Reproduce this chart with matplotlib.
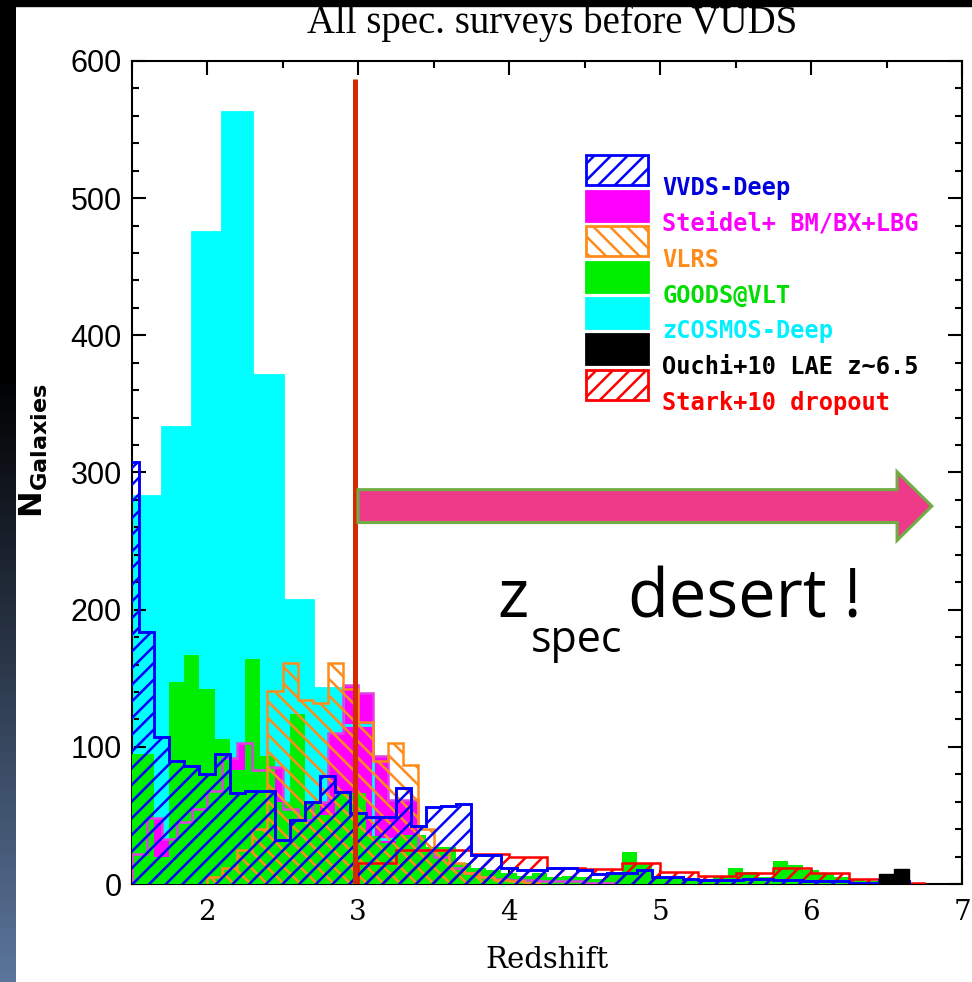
import numpy as np
import matplotlib.pyplot as plt
from matplotlib.patches import Rectangle, FancyArrow
from matplotlib.colors import LinearSegmentedColormap
from matplotlib.ticker import MultipleLocator

plt.rcParams['hatch.linewidth'] = 1.8
plt.rcParams['mathtext.fontset'] = 'dejavusans'

##########
# histogram data (counts per bin)

# VVDS-Deep, bins of 0.1 starting at z=1.45
vvds_z0 = 1.45
vvds = [308, 184, 107, 90, 86, 80, 95, 66, 68, 68, 32, 47, 60, 79, 67, 52, 49, 49, 70, 42,
        56, 57, 58, 21, 21, 12, 10, 10, 12, 12, 10, 7, 8, 8, 10, 5, 5, 4, 3, 3,
        3, 4, 4, 3, 3, 2, 2, 2, 1, 1, 3, 2]

# Steidel+ BM/BX+LBG, bins of 0.1 starting at z=1.5
steidel_z0 = 1.5
steidel = [22, 48, 33, 45, 55, 68, 92, 103, 83, 85, 55, 47, 60, 110, 145, 139, 93, 61, 61, 25,
           20, 12, 8, 5, 4, 3, 3, 2, 2, 2, 1, 1]

# VLRS, bins of 0.1 starting at z=2.0
vlrs_z0 = 2.0
vlrs = [5, 12, 25, 40, 141, 161, 134, 132, 161, 142, 118, 90, 103, 87, 40, 25, 15, 8, 5, 3, 2, 1]

# GOODS@VLT, bins of 0.1 starting at z=1.45
goods_z0 = 1.45
goods = [95, 95, 20, 147, 167, 142, 106, 83, 164, 93, 60, 124, 60, 50, 66, 66, 35, 30, 36, 36,
         27, 27, 15, 12, 10, 8, 6, 8, 5, 6, 5, 4, 8, 23, 15, 5, 4, 3, 4, 6,
         12, 9, 5, 17, 14, 10, 8, 5, 3, 2, 1]

# zCOSMOS-Deep, bins of 0.2 starting at z=1.5
zcosmos_z0 = 1.5
zcosmos = [283, 333, 475, 563, 371, 207, 143, 116, 33, 19, 7, 3, 2, 1, 1, 1]

# Ouchi+10 LAE, bins of 0.1 starting at z=6.45
ouchi_z0 = 6.45
ouchi = [7, 11]

# Stark+10 dropouts, bins of 0.25 starting at z=3.0
stark_z0 = 3.0
stark = [15, 25, 25, 22, 20, 12, 11, 15, 9, 6, 8, 12, 8, 4, 1]

desert_z = 2.98
desert_top = 587

labels = ['VVDS-Deep', 'Steidel+ BM/BX+LBG', 'VLRS', 'GOODS@VLT',
          'zCOSMOS-Deep', 'Ouchi+10 LAE z~6.5', 'Stark+10 dropout']


def edges(z0, dz, vals):
    return z0 + dz * np.arange(len(vals) + 1)


##########
# figure + slide background

fig = plt.figure(figsize=(9.72, 9.82), dpi=100)
fig.patch.set_facecolor('white')

bg = fig.add_axes([0, 0, 15 / 972, 1])
cmap = LinearSegmentedColormap.from_list('slide', [(0, 'black'), (0.38, 'black'), (1, '#5b759b')])
bg.imshow(np.linspace(0, 1, 256).reshape(-1, 1), cmap=cmap, aspect='auto')
bg.axis('off')
fig.patches.append(Rectangle((0, 1 - 6 / 982), 1, 6 / 982, transform=fig.transFigure,
                             color='black', zorder=10))

ax = fig.add_axes([131.5 / 972, 98 / 982, 830.5 / 972, 823 / 982])

##########
# histograms

ax.stairs(zcosmos, edges(zcosmos_z0, 0.2, zcosmos), fill=True, facecolor='#00ffff', linewidth=0, zorder=1)
ax.stairs(steidel, edges(steidel_z0, 0.1, steidel), fill=True, facecolor='#ff00ff', linewidth=0, zorder=2)
ax.stairs(zcosmos, edges(zcosmos_z0, 0.2, zcosmos), edgecolor='#00ffff', linewidth=2, zorder=2.5)
ax.stairs(goods, edges(goods_z0, 0.1, goods), fill=True, facecolor='#00ee00', linewidth=0, zorder=3)
ax.stairs(steidel, edges(steidel_z0, 0.1, steidel), edgecolor='#e040e0', linewidth=1.8, zorder=3.5)
ax.stairs(vlrs, edges(vlrs_z0, 0.1, vlrs), fill=True, facecolor='none', edgecolor='#ff8c1a',
          hatch='\\\\', linewidth=1.8, zorder=5)
ax.stairs(stark, edges(stark_z0, 0.25, stark), fill=True, facecolor='none', edgecolor='#ff0000',
          hatch='//', linewidth=1.8, zorder=5.5)
ax.stairs(vvds, edges(vvds_z0, 0.1, vvds), fill=True, facecolor='none', edgecolor='#0000ff',
          hatch='//', linewidth=2.1, zorder=6)
ax.stairs(ouchi, edges(ouchi_z0, 0.1, ouchi), fill=True, facecolor='black', edgecolor='black',
          linewidth=1, zorder=7)

ax.vlines(desert_z, 0, desert_top, colors='#d42a00', linewidth=3.6, zorder=8)

##########
# arrow + text

arrow = FancyArrow(3.0, 275.5, 3.8, 0, width=24, head_width=50, head_length=0.23,
                   length_includes_head=True, facecolor='#ef3a8a', edgecolor='#70ad47',
                   linewidth=2.2, zorder=9, clip_on=False)
ax.add_patch(arrow)

ax.text(0.440, 0.324, 'z', transform=ax.transAxes, fontsize=48, family='Open Sans', va='baseline')
ax.text(0.481, 0.282, 'spec', transform=ax.transAxes, fontsize=31, family='Open Sans', va='baseline')
ax.text(0.598, 0.324, 'desert !', transform=ax.transAxes, fontsize=48, family='Open Sans', va='baseline')

##########
# legend

styles = [('none', '#0000ff', '//', '#0000dd'),
          ('#ff00ff', '#ff00ff', None, '#ff00ff'),
          ('none', '#ff8c1a', '\\\\', '#ff8c1a'),
          ('#00ee00', '#00ee00', None, '#00dd00'),
          ('#00ffff', '#00ffff', None, '#00f0ff'),
          ('black', 'black', None, 'black'),
          ('none', '#ff0000', '//', '#ff0000')]

for i, (lab, (fc, ec, hatch, tc)) in enumerate(zip(labels, styles)):
    top = 0.886 - i * 0.0435
    ax.add_patch(Rectangle((0.547, top - 0.0365), 0.0747, 0.0365, transform=ax.transAxes,
                           facecolor=fc, edgecolor=ec, hatch=hatch, linewidth=2,
                           zorder=10, clip_on=False))
    ax.text(0.639, top - 0.0365 - 0.004, lab, transform=ax.transAxes, color=tc,
            family='DejaVu Sans Mono', weight='bold', fontsize=17, va='center', zorder=10)

##########
# axes

ax.set_xlim(1.5, 7.0)
ax.set_ylim(0, 600)
ax.xaxis.set_major_locator(MultipleLocator(1))
ax.xaxis.set_minor_locator(MultipleLocator(0.5))
ax.yaxis.set_major_locator(MultipleLocator(100))
ax.yaxis.set_minor_locator(MultipleLocator(20))
ax.tick_params(which='both', direction='in', top=True, right=True, width=1.5, color='black')
ax.tick_params(which='major', length=10)
ax.tick_params(which='minor', length=5)
ax.tick_params(axis='x', pad=11)
ax.tick_params(axis='y', pad=7)
for t in ax.get_xticklabels():
    t.set_fontfamily('DejaVu Serif')
    t.set_fontsize(20)
for t in ax.get_yticklabels():
    t.set_fontfamily('Liberation Sans')
    t.set_fontsize(22)
for s in ax.spines.values():
    s.set_linewidth(1.5)

ax.set_xlabel('Redshift', family='DejaVu Serif', fontsize=21, labelpad=14)
ax.set_ylabel(r'$\mathbf{N_{Galaxies}}$', fontsize=23)
ax.yaxis.set_label_coords(-0.098, 0.527)

fig.text(0.568, 1 - 23 / 982, 'All spec. surveys before VUDS', family='Liberation Serif',
         fontsize=28, ha='center', va='center')

fig.savefig('out.png', dpi=100)
